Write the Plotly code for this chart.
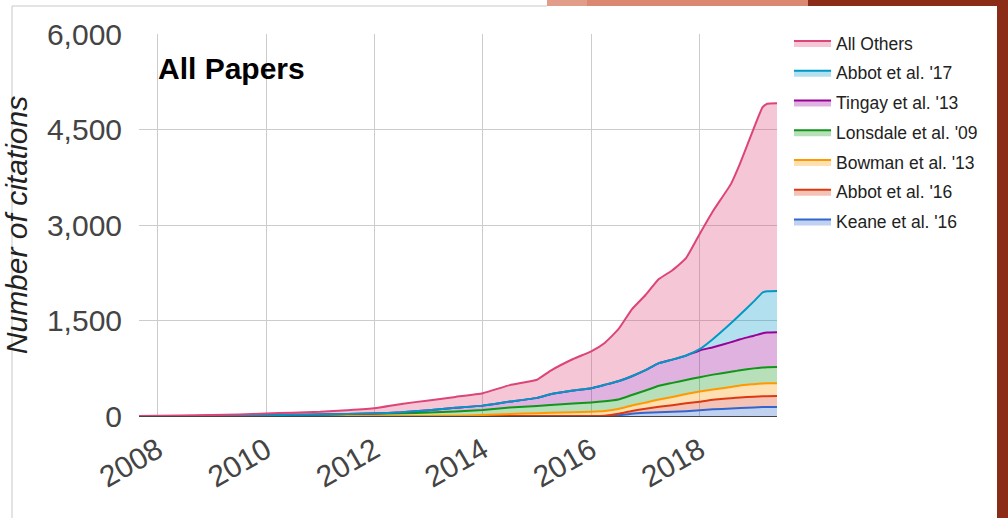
import plotly.graph_objects as go

# ---- data (cumulative citations, values per band) ----
dates = ["2007-08-29", "2008-06-01", "2009-01-01", "2009-07-01", "2010-01-01", "2010-07-01",
         "2011-01-01", "2011-07-01", "2012-01-01", "2012-07-01", "2013-01-01", "2013-07-01",
         "2014-01-01", "2014-07-01", "2015-01-01", "2015-04-01", "2015-09-01", "2016-01-01",
         "2016-04-01", "2016-07-01", "2016-10-01", "2017-01-01", "2017-04-01", "2017-07-01",
         "2017-10-01", "2018-01-01", "2018-04-01", "2018-08-01", "2018-10-01", "2019-01-01",
         "2019-03-01", "2019-04-01", "2019-06-06"]

keane_16 = [0] * 18 + [0, 10, 35, 50, 60, 65, 75, 90, 105, 118, 125, 133, 140, 142, 143]
abbot_16 = [0] * 18 + [5, 25, 45, 65, 85, 105, 125, 135, 150, 162, 167, 170, 170, 170, 170]
bowman_13 = [0] * 11 + [5, 15, 30, 45, 52, 60, 68, 75, 75, 85, 95, 115, 130, 145, 160, 160,
                        175, 188, 197, 202, 203, 203]
lonsdale_09 = [0, 0, 2, 5, 12, 18, 24, 30, 38, 42, 55, 67, 80, 102, 113, 120, 135, 143, 150,
               150, 165, 190, 215, 220, 220, 225, 235, 240, 240, 248, 250, 251, 252]
tingay_13 = [0] * 8 + [2, 16, 35, 56, 68, 94, 127, 170, 205, 226, 260, 285, 295, 320, 355, 365,
                       383, 420, 430, 465, 485, 512, 538, 546, 548]
abbot_17 = [0] * 24 + [2, 20, 130, 300, 390, 540, 640, 648, 649]
all_others = [0, 8, 13, 20, 28, 34, 41, 60, 81, 132, 155, 172, 195, 259, 285, 368, 495, 579,
              658, 814, 1050, 1180, 1320, 1405, 1530, 1810, 2010, 2190, 2375, 2720, 2910, 2945, 2947]

series_names = ["Keane et al. '16", "Abbot et al. '16", "Bowman et al. '13", "Lonsdale et al. '09",
                "Tingay et al. '13", "Abbot et al. '17", "All Others"]
series_values = [keane_16, abbot_16, bowman_13, lonsdale_09, tingay_13, abbot_17, all_others]
series_colors = ["#3366CC", "#DC3912", "#FF9900", "#109618", "#990099", "#0099C6", "#DD4477"]

y_ticks = [0, 1500, 3000, 4500, 6000]

# ---- layout geometry (pixels) ----
W, H = 1008, 518
PL, PR, PT, PB = 139, 777, 34, 416


def px_x(p):
    return (p - PL) / (PR - PL)


def px_y(p):
    return (PB - p) / (PB - PT)


def hex_rgba(h, a):
    h = h.lstrip("#")
    return "rgba(%d,%d,%d,%.2f)" % (int(h[0:2], 16), int(h[2:4], 16), int(h[4:6], 16), a)


fig = go.Figure()
n = len(series_names)
for i, (name, vals, col) in enumerate(zip(series_names, series_values, series_colors)):
    fig.add_trace(go.Scatter(
        x=dates, y=vals, name=name, mode="lines", stackgroup="one",
        line=dict(color=col, width=2, shape="spline", smoothing=0.4),
        fillcolor=hex_rgba(col, 0.30),
        legendgroup="g%d" % i, legendrank=n - i, hoverinfo="skip"))

FONT = "Liberation Sans, Arial, sans-serif"

fig.update_layout(
    width=W, height=H,
    margin=dict(l=PL, r=W - PR, t=PT, b=H - PB, pad=0),
    paper_bgcolor="white", plot_bgcolor="white",
    font=dict(family=FONT, color="#444444"),
    showlegend=True,
    legend=dict(x=px_x(789), xanchor="left", y=px_y(25), yanchor="top",
                traceorder="grouped", tracegroupgap=4,
                font=dict(size=17.5, color="#222222", family=FONT),
                bgcolor="rgba(0,0,0,0)", itemwidth=37),
    xaxis=dict(type="date", range=[dates[0], dates[-1]], tick0="2008-01-01", dtick="M24",
               tickformat="%Y", tickangle=-30, tickfont=dict(size=30, color="#444444"),
               showgrid=True, gridcolor="#cccccc", gridwidth=1,
               ticks="outside", ticklen=4, tickcolor="rgba(0,0,0,0)",
               showline=False, zeroline=False, automargin=False),
    yaxis=dict(range=[0, 6000], tickvals=y_ticks, tickformat=",",
               tickfont=dict(size=30, color="#444444"),
               showgrid=True, gridcolor="#cccccc", gridwidth=1,
               zeroline=True, zerolinecolor="#444444", zerolinewidth=1,
               ticks="outside", ticklen=10, tickcolor="rgba(0,0,0,0)", showline=False,
               automargin=False,
               title=dict(text="Number of citations", standoff=10,
                          font=dict(size=30, color="#222222", family=FONT, style="italic"))),
    annotations=[dict(text="<b>All Papers</b>", xref="paper", yref="paper",
                      x=px_x(156), y=px_y(68), xanchor="left", yanchor="middle",
                      showarrow=False, font=dict(size=30, color="#000000", family=FONT))],
)

shapes = [
    # slide card border
    dict(type="line", x0=px_x(12), x1=px_x(12), y0=px_y(6), y1=px_y(H), line=dict(color="#c8c8c8", width=1)),
    dict(type="line", x0=px_x(12), x1=px_x(547), y0=px_y(6), y1=px_y(6), line=dict(color="#c8c8c8", width=1)),
    # slide theme decorations
    dict(type="rect", x0=px_x(547), x1=px_x(587), y0=px_y(6), y1=px_y(0), fillcolor="#E19D89", line=dict(width=0)),
    dict(type="rect", x0=px_x(587), x1=px_x(808), y0=px_y(6), y1=px_y(0), fillcolor="#DA8872", line=dict(width=0)),
    dict(type="rect", x0=px_x(808), x1=px_x(W), y0=px_y(6), y1=px_y(0), fillcolor="#8A2C17", line=dict(width=0)),
    dict(type="rect", x0=px_x(997), x1=px_x(W), y0=px_y(H), y1=px_y(0), fillcolor="#8A2C17", line=dict(width=0)),
]
for s in shapes:
    s.update(xref="paper", yref="paper", layer="above")
fig.update_layout(shapes=shapes)

fig.write_html("out.html", config={"displayModeBar": False},
               post_script="document.body.style.margin='0';document.body.style.overflow='hidden';")
